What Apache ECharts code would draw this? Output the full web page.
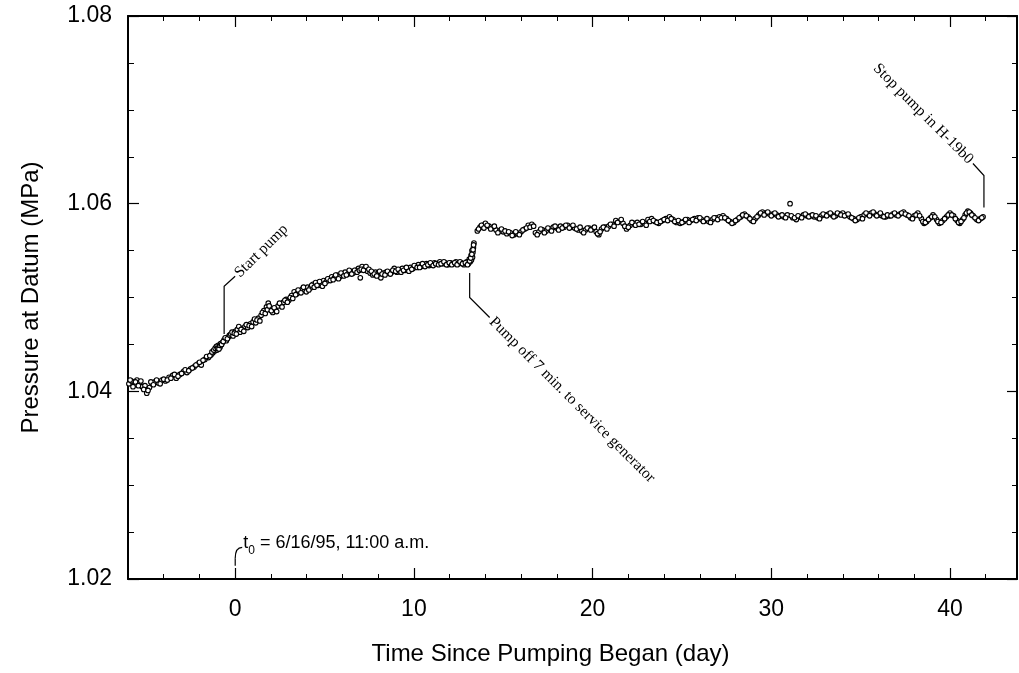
<!DOCTYPE html>
<html><head><meta charset="utf-8">
<script src="https://cdn.jsdelivr.net/npm/echarts@6/dist/echarts.min.js"></script>
<style>html,body{margin:0;padding:0;background:#fff}#c{width:1019px;height:673px}</style>
</head><body><div id="c"></div>
<script>
// ---- data (day, pressure MPa) ----
// before pumping
const dayA = [-5.95,-5.8,-5.65,-5.5,-5.35,-5.2,-5.05,-4.95,-4.8,-4.65,
  -4.5,-4.3,-4.1,-3.9,-3.7,-3.5,-3.3,-3.1,-2.9,-2.7,
  -2.5,-2.3,-2.1,-1.9,-1.7,-1.5,-1.35,-1.25,-1.15,-1.08,
  -1.02,-0.97,-0.93,-0.89,-0.85,-0.8,-0.72,-0.62,-0.5,-0.38];
const valA = [1.0408,1.0411,1.0407,1.0412,1.0409,1.0405,1.0406,1.0398,1.0404,1.0408,
  1.0410,1.0409,1.0412,1.0411,1.0415,1.0417,1.0414,1.0418,1.0421,1.0420,
  1.0424,1.0426,1.0429,1.0428,1.0434,1.0436,1.0439,1.0441,1.0443,1.0445,
  1.0444,1.0447,1.0446,1.0448,1.0447,1.0450,1.0452,1.0455,1.0454,1.0458];
const dayA2 = [-5.88,-5.72,-5.58,-5.42,-5.28,-5.12,-4.88,-4.72,-4.58,-4.4,
  -4.2,-4.0,-3.8,-3.6,-3.4,-3.2,-3.0,-2.8,-2.6,-2.4,
  -2.2,-2.0,-1.8,-1.6,-1.42,-1.3,-1.2,-1.12,-1.05,-0.99,
  -0.95,-0.91,-0.87,-0.82,-0.76,-0.67,-0.56,-0.44,-0.32];
const valA2 = [1.0412,1.0405,1.0410,1.0406,1.0411,1.0402,1.0401,1.0410,1.0407,1.0412,
  1.0408,1.0413,1.0412,1.0414,1.0418,1.0416,1.0419,1.0423,1.0422,1.0425,
  1.0428,1.0431,1.0433,1.0437,1.0438,1.0442,1.0444,1.0446,1.0448,1.0446,
  1.0449,1.0445,1.0449,1.0451,1.0450,1.0453,1.0457,1.0456,1.0460];

// pumping, up to the 7-minute stop
const dayB = [-0.25,-0.12,0.0,0.12,0.27,0.4,0.55,0.7,0.85,1.0,
  1.15,1.3,1.45,1.6,1.75,1.85,1.95,2.1,2.25,2.4,
  2.55,2.7,2.85,3.0,3.15,3.3,3.45,3.6,3.75,3.9,
  4.05,4.2,4.35,4.5,4.65,4.8,4.95,5.1,5.25,5.4,
  5.55,5.7,5.85,6.0,6.15,6.3,6.45,6.6,6.75,6.9,
  7.0,7.1,7.25,7.4,7.55,7.7,7.85,8.0,8.15,8.3,
  8.45,8.6,8.75,8.9,9.05,9.2,9.35,9.5,9.65,9.8,
  9.95,10.1,10.25,10.4,10.55,10.7,10.85,11.0,11.15,11.3,
  11.45,11.6,11.75,11.9,12.05,12.2,12.35,12.5,12.65,12.8,
  12.95,13.05,13.1,13.15,13.2,13.22,13.25,13.28,13.3,13.33,
  13.36];
const valB = [1.0461,1.0459,1.0464,1.0466,1.0463,1.0467,1.0469,1.0468,1.0472,1.0474,
  1.0473,1.0478,1.0481,1.0486,1.0490,1.0494,1.0488,1.0484,1.0487,1.0491,
  1.0493,1.0495,1.0498,1.0497,1.0502,1.0506,1.0504,1.0507,1.0509,1.0508,
  1.0511,1.0510,1.0514,1.0516,1.0513,1.0515,1.0518,1.0517,1.0520,1.0522,
  1.0521,1.0524,1.0522,1.0525,1.0527,1.0525,1.0528,1.0526,1.0529,1.0531,
  1.0521,1.0533,1.0531,1.0528,1.0526,1.0524,1.0527,1.0526,1.0521,1.0526,
  1.0527,1.0526,1.0527,1.0531,1.0527,1.0529,1.0531,1.0529,1.0530,1.0532,
  1.0531,1.0533,1.0535,1.0533,1.0534,1.0536,1.0534,1.0535,1.0537,1.0536,
  1.0538,1.0536,1.0537,1.0535,1.0537,1.0536,1.0538,1.0536,1.0537,1.0535,
  1.0538,1.0536,1.0541,1.0538,1.0545,1.0540,1.0550,1.0543,1.0548,1.0553,
  1.0558];
const dayB2 = [-0.18,-0.05,0.06,0.2,0.33,0.48,0.62,0.78,0.92,1.08,
  1.22,1.38,1.52,1.68,1.8,1.9,2.02,2.18,2.32,2.48,
  2.62,2.78,2.92,3.08,3.22,3.38,3.52,3.68,3.82,3.98,
  4.12,4.28,4.42,4.58,4.72,4.88,5.02,5.18,5.32,5.48,
  5.62,5.78,5.92,6.08,6.22,6.38,6.52,6.68,6.82,6.95,
  7.05,7.18,7.32,7.48,7.62,7.78,7.92,8.08,8.22,8.38,
  8.52,8.68,8.82,8.98,9.12,9.28,9.42,9.58,9.72,9.88,
  10.02,10.18,10.32,10.48,10.62,10.78,10.92,11.08,11.22,11.38,
  11.52,11.68,11.82,11.98,12.12,12.28,12.42,12.58,12.72,12.88,
  13.0,13.12,13.18,13.24,13.31,13.34];
const valB2 = [1.0463,1.0462,1.0461,1.0469,1.0466,1.0464,1.0471,1.0470,1.0469,1.0477,
  1.0476,1.0475,1.0484,1.0483,1.0487,1.0491,1.0486,1.0489,1.0485,1.0494,
  1.0490,1.0497,1.0495,1.0500,1.0499,1.0503,1.0508,1.0505,1.0511,1.0506,
  1.0508,1.0513,1.0511,1.0513,1.0517,1.0512,1.0515,1.0520,1.0518,1.0519,
  1.0524,1.0520,1.0526,1.0523,1.0524,1.0529,1.0525,1.0529,1.0527,1.0529,
  1.0530,1.0529,1.0533,1.0530,1.0528,1.0525,1.0523,1.0528,1.0525,1.0524,
  1.0528,1.0525,1.0529,1.0528,1.0530,1.0527,1.0529,1.0532,1.0528,1.0530,
  1.0534,1.0532,1.0532,1.0536,1.0533,1.0535,1.0537,1.0534,1.0536,1.0535,
  1.0536,1.0538,1.0535,1.0537,1.0535,1.0537,1.0535,1.0538,1.0536,1.0537,
  1.0535,1.0539,1.0542,1.0546,1.0551,1.0556];

// after the restart
const dayC = [13.55,13.7,13.85,14.0,14.2,14.4,14.6,14.8,15.0,15.2,
  15.4,15.6,15.8,16.0,16.2,16.4,16.6,16.8,17.0,17.2,
  17.4,17.6,17.8,18.0,18.2,18.4,18.6,18.8,19.0,19.2,
  19.4,19.6,19.8,20.0,20.2,20.35,20.5,20.7,20.9,21.1,
  21.3,21.5,21.7,21.9,22.1,22.3,22.5,22.7,22.9,23.1,
  23.3,23.5,23.7,23.9,24.1,24.3,24.5,24.7,24.9,25.1,
  25.3,25.5,25.7,25.9,26.1,26.3,26.5,26.7,26.9,27.1,
  27.3,27.5,27.7,27.9,28.1,28.3,28.5,28.7,28.9,29.1,
  29.3,29.5,29.7,29.9,30.1,30.3,30.5,30.7,30.9,31.05,
  31.2,31.4,31.6,31.8,32.0,32.2,32.4,32.6,32.8,33.0,
  33.2,33.4,33.6,33.8,34.0,34.2,34.4,34.6,34.8,35.0,
  35.2,35.4,35.6,35.8,36.0,36.2,36.4,36.6,36.8,37.0,
  37.2,37.4,37.6,37.8,38.0,38.2,38.4,38.55,38.7,38.9,
  39.05,39.25,39.4,39.6,39.8,40.0,40.2,40.4,40.55,40.7,
  40.85,41.0,41.15,41.3,41.5,41.7,41.85];
const valC = [1.0571,1.0575,1.0577,1.0579,1.0576,1.0574,1.0572,1.0571,1.0570,1.0568,
  1.0569,1.0567,1.0568,1.0570,1.0573,1.0577,1.0578,1.0569,1.0570,1.0572,
  1.0571,1.0573,1.0575,1.0574,1.0576,1.0575,1.0577,1.0575,1.0574,1.0572,
  1.0571,1.0572,1.0574,1.0573,1.0570,1.0567,1.0573,1.0575,1.0576,1.0578,
  1.0582,1.0581,1.0579,1.0573,1.0577,1.0579,1.0580,1.0578,1.0579,1.0583,
  1.0584,1.0581,1.0579,1.0582,1.0584,1.0586,1.0583,1.0580,1.0579,1.0581,
  1.0583,1.0582,1.0584,1.0585,1.0583,1.0582,1.0581,1.0583,1.0585,1.0586,
  1.0587,1.0584,1.0581,1.0580,1.0583,1.0586,1.0589,1.0586,1.0582,1.0584,
  1.0588,1.0591,1.0590,1.0589,1.0589,1.0588,1.0587,1.0586,1.0588,1.0600,
  1.0585,1.0583,1.0586,1.0588,1.0587,1.0587,1.0586,1.0585,1.0587,1.0588,
  1.0589,1.0588,1.0587,1.0589,1.0590,1.0588,1.0586,1.0584,1.0583,1.0586,
  1.0588,1.0589,1.0590,1.0589,1.0588,1.0587,1.0586,1.0587,1.0589,1.0588,
  1.0589,1.0591,1.0588,1.0585,1.0587,1.0590,1.0584,1.0579,1.0581,1.0585,
  1.0588,1.0583,1.0579,1.0582,1.0586,1.0590,1.0587,1.0582,1.0579,1.0583,
  1.0588,1.0592,1.0590,1.0587,1.0583,1.0584,1.0586];
const dayC2 = [13.62,13.78,13.92,14.1,14.3,14.5,14.7,14.9,15.1,15.3,
  15.5,15.7,15.9,16.1,16.3,16.5,16.7,16.9,17.1,17.3,
  17.5,17.7,17.9,18.1,18.3,18.5,18.7,18.9,19.1,19.3,
  19.5,19.7,19.9,20.1,20.28,20.42,20.6,20.8,21.0,21.2,
  21.4,21.6,21.8,22.0,22.2,22.4,22.6,22.8,23.0,23.2,
  23.4,23.6,23.8,24.0,24.2,24.4,24.6,24.8,25.0,25.2,
  25.4,25.6,25.8,26.0,26.2,26.4,26.6,26.8,27.0,27.2,
  27.4,27.6,27.8,28.0,28.2,28.4,28.6,28.8,29.0,29.2,
  29.4,29.6,29.8,30.0,30.2,30.4,30.6,30.8,31.12,31.3,
  31.5,31.7,31.9,32.1,32.3,32.5,32.7,32.9,33.1,33.3,
  33.5,33.7,33.9,34.1,34.3,34.5,34.7,34.9,35.1,35.3,
  35.5,35.7,35.9,36.1,36.3,36.5,36.7,36.9,37.1,37.3,
  37.5,37.7,37.9,38.1,38.3,38.48,38.62,38.8,38.98,39.15,
  39.32,39.5,39.7,39.9,40.1,40.3,40.48,40.62,40.78,40.92,
  41.08,41.22,41.4,41.6,41.78];
const valC2 = [1.0573,1.0577,1.0574,1.0577,1.0573,1.0576,1.0569,1.0573,1.0571,1.0570,
  1.0566,1.0570,1.0567,1.0572,1.0574,1.0575,1.0576,1.0567,1.0573,1.0569,
  1.0574,1.0571,1.0576,1.0572,1.0574,1.0577,1.0574,1.0577,1.0573,1.0575,
  1.0569,1.0574,1.0572,1.0575,1.0568,1.0570,1.0575,1.0573,1.0578,1.0576,
  1.0580,1.0583,1.0576,1.0575,1.0580,1.0577,1.0578,1.0581,1.0577,1.0581,
  1.0582,1.0580,1.0581,1.0583,1.0582,1.0584,1.0581,1.0582,1.0580,1.0583,
  1.0580,1.0583,1.0582,1.0585,1.0581,1.0584,1.0580,1.0585,1.0583,1.0585,
  1.0585,1.0582,1.0579,1.0582,1.0585,1.0588,1.0587,1.0584,1.0581,1.0586,
  1.0590,1.0588,1.0591,1.0587,1.0590,1.0586,1.0588,1.0585,1.0587,1.0585,
  1.0587,1.0585,1.0589,1.0586,1.0588,1.0587,1.0584,1.0589,1.0587,1.0590,
  1.0586,1.0590,1.0588,1.0587,1.0589,1.0585,1.0582,1.0585,1.0584,1.0590,
  1.0587,1.0591,1.0587,1.0590,1.0586,1.0588,1.0587,1.0590,1.0587,1.0590,
  1.0589,1.0587,1.0584,1.0588,1.0587,1.0581,1.0580,1.0583,1.0586,1.0586,
  1.0581,1.0580,1.0584,1.0588,1.0588,1.0584,1.0580,1.0581,1.0585,1.0590,
  1.0591,1.0588,1.0585,1.0582,1.0585];

const xTickLabels = [0, 10, 20, 30, 40];
const yTickLabels = ['1.02', '1.04', '1.06', '1.08'];

const xName = 'Time Since Pumping Began (day)';
const yName = 'Pressure at Datum (MPa)';
const noteStart = 'Start pump';
const noteOff = 'Pump off 7 min. to service generator';
const noteStop = 'Stop pump in H-19b0';
const noteT0 = ['t', '0', ' = 6/16/95, 11:00 a.m.'];

// ---- layout ----
const W = 1019, H = 673;
const GL = 128, GR = 2, GT = 16, GB = 94;
const XMIN = -6, XMAX = 43.75;
const pxPerDay = (W - GL - GR) / (XMAX - XMIN);
const majLeft = GL + (xTickLabels[0] - XMIN) * pxPerDay;
const majRight = GL + (xTickLabels[xTickLabels.length - 1] - XMIN) * pxPerDay;

const sans = 'Liberation Sans, Arial, Helvetica, sans-serif';
const serif = 'Liberation Serif, Times New Roman, serif';

function zip(a, b) { return a.map((d, i) => [d, b[i]]); }
const allData = [].concat(zip(dayA, valA), zip(dayA2, valA2), zip(dayB, valB),
  zip(dayB2, valB2), zip(dayC, valC), zip(dayC2, valC2));

const chart = echarts.init(document.getElementById('c'), null, { renderer: 'canvas' });

const axLine = { show: true, onZero: false, lineStyle: { color: '#000', width: 2 } };
const minorX = {
  type: 'value', gridIndex: 0, min: XMIN, max: XMAX, interval: 2,
  axisLine: axLine, axisTick: { inside: true, length: 5, lineStyle: { color: '#000', width: 1 } },
  axisLabel: { show: false }, splitLine: { show: false }
};
const majorX = {
  type: 'value', gridIndex: 1, min: xTickLabels[0], max: xTickLabels[xTickLabels.length - 1], interval: 10,
  axisLine: { show: false, onZero: false },
  axisTick: { show: true, inside: true, length: 11, lineStyle: { color: '#000', width: 1.2 } },
  splitLine: { show: false }
};

chart.setOption({
  animation: false,
  backgroundColor: '#fff',
  grid: [
    { left: GL, right: GR, top: GT, bottom: GB },
    { left: majLeft, right: W - majRight, top: GT, bottom: GB }
  ],
  xAxis: [
    Object.assign({}, minorX, {
      position: 'bottom',
      name: xName, nameLocation: 'middle', nameGap: 63,
      nameTextStyle: { color: '#000', fontSize: 24, fontFamily: sans, padding: [0, 44, 0, 0] }
    }),
    Object.assign({}, minorX, { position: 'top' }),
    Object.assign({}, majorX, {
      position: 'bottom',
      axisLabel: { show: true, color: '#000', fontSize: 23, fontFamily: sans, margin: 19,
        formatter: v => (xTickLabels.indexOf(v) >= 0 ? String(v) : '') }
    }),
    Object.assign({}, majorX, { position: 'top', axisLabel: { show: false } })
  ],
  yAxis: [
    {
      type: 'value', gridIndex: 0, position: 'left', min: 1.02, max: 1.08, interval: 0.02,
      axisLine: axLine,
      axisTick: { inside: true, length: 11, lineStyle: { color: '#000', width: 1.2 } },
      minorTick: { show: true, splitNumber: 4, length: 6, lineStyle: { color: '#000', width: 1 } },
      axisLabel: { color: '#000', fontSize: 23, fontFamily: sans, margin: 16,
        formatter: v => { const s = v.toFixed(2); return yTickLabels.indexOf(s) >= 0 ? s : ''; } },
      splitLine: { show: false },
      name: yName, nameLocation: 'middle', nameGap: 85, nameRotate: 90,
      nameTextStyle: { color: '#000', fontSize: 24, fontFamily: sans }
    },
    {
      type: 'value', gridIndex: 0, position: 'right', min: 1.02, max: 1.08, interval: 0.02,
      axisLine: axLine,
      axisTick: { inside: true, length: 10, lineStyle: { color: '#000', width: 1.2 } },
      minorTick: { show: true, splitNumber: 4, length: 5, lineStyle: { color: '#000', width: 1 } },
      axisLabel: { show: false }, splitLine: { show: false }
    },
    { type: 'value', gridIndex: 1, min: 1.02, max: 1.08, show: false, axisLine: { onZero: false } }
  ],
  series: [{
    type: 'scatter', xAxisIndex: 0, yAxisIndex: 0,
    data: allData, symbol: 'circle', symbolSize: 4.6,
    itemStyle: { color: '#fff', borderColor: '#000', borderWidth: 1.1, opacity: 1 },
    emphasis: { disabled: true }
  }]
});

// ---- annotations anchored via the axes ----
function P(x, y) { return chart.convertToPixel({ gridIndex: 0 }, [x, y]); }
const lineSt = { stroke: '#000', lineWidth: 1.2, fill: null };

const sA = P(-0.62, 1.0461), sB = P(-0.62, 1.0512);
const sC = [sB[0] + 11, sB[1] - 10];
const oA = P(13.12, 1.0526), oB = P(13.12, 1.0500);
const oC = [oB[0] + 20, oB[1] + 20];
const pA = P(41.9, 1.0596), pB = P(41.9, 1.0630);
const pC = [pB[0] - 11, pB[1] - 12];
const tA = P(0, 1.0214), tB = P(0, 1.0222);
const tC = [tB[0] + 7, tB[1] - 11];
const noteFont = '15.5px ' + serif;

chart.setOption({
  graphic: [
    { type: 'polyline', shape: { points: [sA, sB, sC] }, style: lineSt, silent: true },
    { type: 'text', x: sC[0] + 2, y: sC[1] - 1, rotation: Math.PI / 4,
      style: { text: noteStart, font: noteFont, fill: '#000', textAlign: 'left', textVerticalAlign: 'middle' } },
    { type: 'polyline', shape: { points: [oA, oB, oC] }, style: lineSt, silent: true },
    { type: 'text', x: oC[0] + 2, y: oC[1] + 2, rotation: -Math.PI / 4,
      style: { text: noteOff, font: noteFont, fill: '#000', textAlign: 'left', textVerticalAlign: 'middle' } },
    { type: 'polyline', shape: { points: [pA, pB, pC] }, style: lineSt, silent: true },
    { type: 'text', x: pC[0] - 2, y: pC[1] - 2, rotation: -Math.PI / 4,
      style: { text: noteStop, font: noteFont, fill: '#000', textAlign: 'right', textVerticalAlign: 'middle' } },
    { type: 'line', shape: { x1: tA[0], y1: tA[1], x2: tB[0], y2: tB[1] }, style: lineSt, silent: true },
    { type: 'bezierCurve', shape: { x1: tB[0], y1: tB[1], x2: tC[0], y2: tC[1], cpx1: tB[0], cpy1: tC[1] }, style: lineSt, silent: true },
    { type: 'text', x: tC[0] + 1, y: tC[1] - 4,
      style: {
        text: '{a|' + noteT0[0] + '}{b|' + noteT0[1] + '}{a|' + noteT0[2] + '}',
        rich: {
          a: { fontSize: 18, fontFamily: sans, fill: '#000', color: '#000', verticalAlign: 'bottom' },
          b: { fontSize: 12, fontFamily: sans, fill: '#000', color: '#000', verticalAlign: 'bottom', padding: [0, 0, -4, 0] }
        },
        textAlign: 'left', textVerticalAlign: 'middle'
      } }
  ]
});
</script></body></html>
